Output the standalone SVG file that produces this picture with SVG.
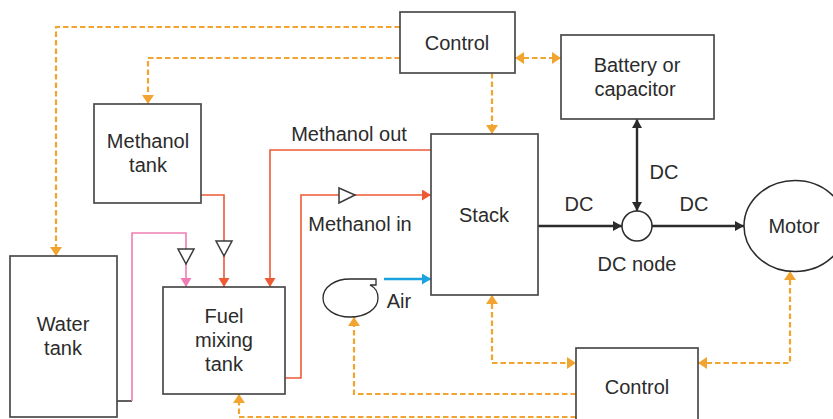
<svg xmlns="http://www.w3.org/2000/svg" width="833" height="419" viewBox="0 0 833 419">
<style>
text{font-family:"Liberation Sans",Arial,sans-serif;font-size:20px;fill:#2b2b2b;text-anchor:middle}
.b{fill:#fff;stroke:#4a4a4a;stroke-width:1.7}
.o{fill:none;stroke:#F2A431;stroke-width:2.2;stroke-dasharray:5.5 3}
.r{fill:none;stroke:#EE5A36;stroke-width:1.6}
.k{fill:none;stroke:#2b2b2b;stroke-width:2.4}
.v{fill:#fff;stroke:#3a3a3a;stroke-width:1.5}
</style>
<defs>
<marker id="ao" markerUnits="userSpaceOnUse" markerWidth="11" markerHeight="12" refX="9" refY="6" orient="auto-start-reverse"><path d="M0,0L9,6L0,12z" fill="#F2A431"/></marker>
<marker id="ar" markerUnits="userSpaceOnUse" markerWidth="11" markerHeight="12" refX="9" refY="5.5" orient="auto"><path d="M0,0L9,5.5L0,11z" fill="#EE5A36"/></marker>
<marker id="ap" markerUnits="userSpaceOnUse" markerWidth="11" markerHeight="12" refX="9" refY="5.5" orient="auto"><path d="M0,0L9,5.5L0,11z" fill="#EE7DB3"/></marker>
<marker id="ab" markerUnits="userSpaceOnUse" markerWidth="11" markerHeight="12" refX="9" refY="5.5" orient="auto"><path d="M0,0L9,5.5L0,11z" fill="#1AA3DC"/></marker>
<marker id="ak" markerUnits="userSpaceOnUse" markerWidth="11" markerHeight="12" refX="9" refY="5" orient="auto-start-reverse"><path d="M0,0L9,5L0,10z" fill="#2b2b2b"/></marker>
</defs>
<g id="connectors">
<path class="o" d="M400,27H56V256" marker-end="url(#ao)"/>
<path class="o" d="M400,58H148V104" marker-end="url(#ao)"/>
<path class="o" d="M492,73V134" marker-end="url(#ao)"/>
<path class="o" d="M515,58H561" marker-start="url(#ao)" marker-end="url(#ao)"/>
<path class="o" d="M492,295V363H576" marker-start="url(#ao)" marker-end="url(#ao)"/>
<path class="o" d="M790,271V363H698" marker-start="url(#ao)" marker-end="url(#ao)"/>
<path class="o" d="M576,394H354V317" marker-end="url(#ao)"/>
<path class="o" d="M576,417H239V394" marker-end="url(#ao)"/>
<path class="r" d="M201,195H224V287" marker-end="url(#ar)"/>
<path class="r" d="M431,150H270V287" marker-end="url(#ar)"/>
<path class="r" d="M285,378H301V195H431" marker-end="url(#ar)"/>
<path d="M117,401H132" fill="none" stroke="#2b2b2b" stroke-width="1.5"/>
<path d="M132,401V233H186V287" fill="none" stroke="#EE7DB3" stroke-width="1.6" marker-end="url(#ap)"/>
<path d="M384,279H431" fill="none" stroke="#1AA3DC" stroke-width="2.4" marker-end="url(#ab)"/>
<path class="k" d="M538,226H622" marker-end="url(#ak)"/>
<path class="k" d="M652,226H744" marker-end="url(#ak)"/>
<path class="k" d="M637,119V211" marker-start="url(#ak)" marker-end="url(#ak)"/>
</g>
<g id="valves">
<path class="v" d="M178,249H194L186,264z"/>
<path class="v" d="M216,241H232L224,256z"/>
<path class="v" d="M339,188L355,195L339,203z"/>
</g>
<g id="control-top"><rect class="b" x="400" y="12" width="115" height="61"/><text x="457" y="50">Control</text></g>
<g id="battery"><rect class="b" x="561" y="35" width="153" height="84"/><text x="637" y="72">Battery or</text><text x="635" y="96">capacitor</text></g>
<g id="methanol-tank"><rect class="b" x="94" y="104" width="107" height="99"/><text x="148" y="148">Methanol</text><text x="148" y="172">tank</text></g>
<g id="stack"><rect class="b" x="431" y="134" width="107" height="161"/><text x="484" y="222">Stack</text></g>
<g id="water-tank"><rect class="b" x="10" y="256" width="107" height="161"/><text x="63" y="331">Water</text><text x="63" y="355">tank</text></g>
<g id="fuel-mixing-tank"><rect class="b" x="163" y="287" width="122" height="107"/><text x="224" y="323">Fuel</text><text x="224" y="347">mixing</text><text x="224" y="371">tank</text></g>
<g id="control-bottom"><rect class="b" x="576" y="348" width="122" height="90"/><text x="637" y="394">Control</text></g>
<g id="dc-node"><circle cx="637" cy="226" r="15" fill="#fff" stroke="#2b2b2b" stroke-width="1.5"/><text x="637" y="271">DC node</text></g>
<g id="motor"><ellipse cx="795" cy="226" rx="51" ry="45.5" fill="#fff" stroke="#2b2b2b" stroke-width="1.5"/><text x="794" y="233">Motor</text></g>
<g id="pump"><path d="M376,279V285H370C376,288 378,292 378,298C378,309 366,317 350,317C335,317 323,309 323,298C323,287 335,279 350,279z" fill="#fff" stroke="#2b2b2b" stroke-width="1.3"/></g>
<g id="labels">
<text x="349" y="141">Methanol out</text>
<text x="360" y="231">Methanol in</text>
<text x="399" y="308">Air</text>
<text x="579" y="211">DC</text>
<text x="694" y="211">DC</text>
<text x="664" y="179">DC</text>
</g>
</svg>
